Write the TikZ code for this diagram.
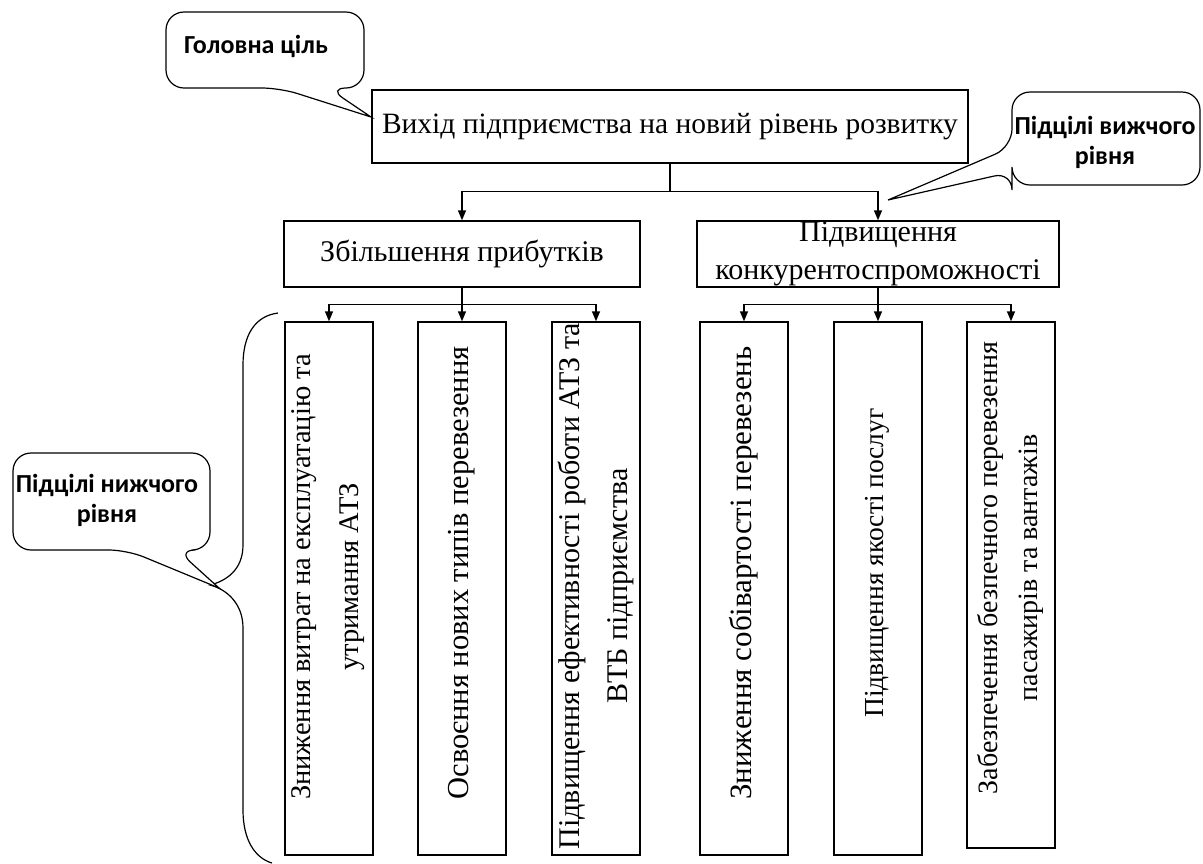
\documentclass[tikz,border=0pt]{standalone}
\usepackage{fontspec}
\setmainfont{Liberation Serif}
\newfontfamily\calibri{Carlito}
\usetikzlibrary{arrows.meta}
\begin{document}
\begin{tikzpicture}[x=1pt,y=-1pt,
  every node/.style={font=\fontsize{30}{38}\selectfont},
  box/.style={draw, line width=1.4pt, inner sep=0pt, align=center},
  vbox/.style={draw, line width=1.4pt, minimum width=88pt},
  vtext/.style={rotate=90, align=center, inner sep=0pt},
  arr/.style={line width=1.4pt, -{Triangle[length=10pt,width=8pt]}},
  callout/.style={draw, line width=1.2pt, rounded corners=18pt, fill=white},
  ctext/.style={font=\calibri\bfseries\fontsize{26}{30}\selectfont, align=center, inner sep=0pt},
]
\useasboundingbox (0,0) rectangle (1203,863);

% top box
\node[box, minimum width=596pt, minimum height=73pt, font=\fontsize{29.5}{36}\selectfont] (top) at (670,126.5) {Вихід підприємства на новий рівень розвитку};

% level 2
\node[box, minimum width=356pt, minimum height=66pt] (la) at (462,254) {Збільшення прибутків};
\node[box, minimum width=362pt, minimum height=66pt] (lb) at (878,254) {Підвищення\\конкурентоспроможності};

% level 3 boxes
\node[vbox, minimum height=533pt] (b1) at (329,588.5) {};
\node[vbox, minimum height=533pt] (b2) at (462,588.5) {};
\node[vbox, minimum height=533pt] (b3) at (596,588.5) {};
\node[vbox, minimum height=533pt] (b4) at (744,588.5) {};
\node[vbox, minimum height=533pt] (b5) at (878,588.5) {};
\node[vbox, minimum height=526pt] (b6) at (1011,585) {};

% level 3 texts
\node[vtext, font=\fontsize{28.5}{48}\selectfont] (b1t) at (328,577) {Зниження витрат на експлуатацію та\\утримання АТЗ};
\node[vtext, font=\fontsize{30.5}{38}\selectfont] (b2t) at (462,573) {Освоєння нових типів перевезення};
\node[vtext, font=\fontsize{30}{48}\selectfont] (b3t) at (596,586) {Підвищення ефективності роботи АТЗ та\\ВТБ підприємства};
\node[vtext, font=\fontsize{31}{38}\selectfont] (b4t) at (744,573) {Зниження собівартості перевезень};
\node[vtext, font=\fontsize{27.5}{38}\selectfont] (b5t) at (877,563) {Підвищення якості послуг};
\node[vtext, font=\fontsize{28}{40}\selectfont] (b6t) at (1010,568) {Забезпечення безпечного перевезення\\пасажирів та вантажів};

% connectors
\draw[arr] (top.south) -- ++(0,28) -| (la.north);
\draw[arr] (top.south) -- ++(0,28) -| (lb.north);
\draw[arr] (la.south) -- ++(0,17) -| (b1.north);
\draw[arr] (la.south) -- (b2.north);
\draw[arr] (la.south) -- ++(0,17) -| (b3.north);
\draw[arr] (lb.south) -- ++(0,17) -| (b4.north);
\draw[arr] (lb.south) -- (b5.north);
\draw[arr] (lb.south) -- ++(0,17) -| (b6.north);

% brace
\draw[line width=1.2pt] (278,313) .. controls (255,316) and (243,335) .. (243,365)
  -- (243,545) .. controls (243,570) and (226,581) .. (210,585)
  .. controls (226,589) and (243,603) .. (243,628)
  -- (243,810) .. controls (243,840) and (255,858) .. (272,863);

% callout 1
\coordinate (t1) at (371,117);
\draw[callout] (166,12) -- (364,12) -- (364,88) -- (328,88) [sharp corners] -- (t1) [rounded corners=18pt] -- (280,88) -- (166,88) -- cycle;
\node[ctext] (c1) at (256,46) {Головна ціль};

% callout 2
\coordinate (t2) at (888,200);
\draw[callout] (1012,92) -- (1200,92) -- (1200,185) -- (1012,185) -- (1012,172) [sharp corners] -- (t2) [rounded corners=18pt] -- (1012,147) -- cycle;
\node[ctext] (c2) at (1105,142) {Підцілі вижчого\\рівня};

% callout 3
\coordinate (t3) at (219,588);
\draw[callout] (13,453) -- (210,453) -- (210,550) -- (177,550) [sharp corners] -- (t3) [rounded corners=18pt] -- (127,550) -- (13,550) -- cycle;
\node[ctext] (c3) at (107,500) {Підцілі нижчого\\рівня};
\end{tikzpicture}
\end{document}
